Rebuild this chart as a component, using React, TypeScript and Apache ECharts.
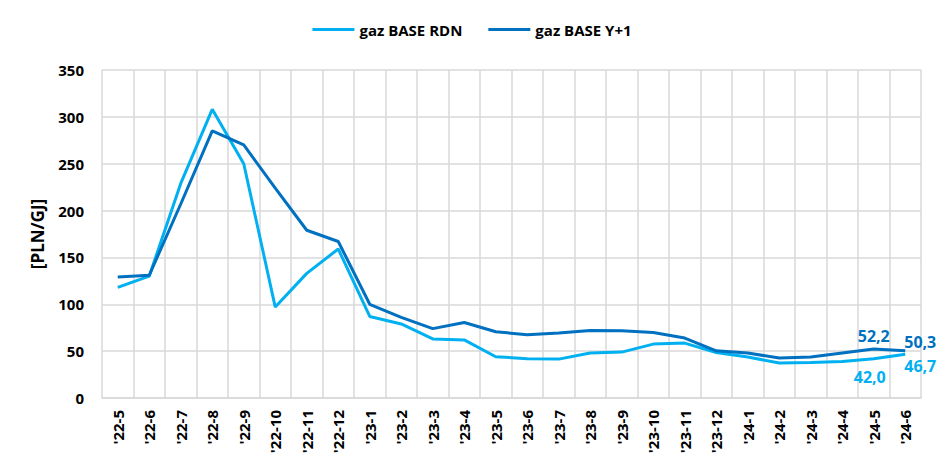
import React, { useEffect, useRef } from "react";
import * as echarts from "echarts";

const categories = [
  "'22-5", "'22-6", "'22-7", "'22-8", "'22-9", "'22-10", "'22-11", "'22-12",
  "'23-1", "'23-2", "'23-3", "'23-4", "'23-5", "'23-6", "'23-7", "'23-8",
  "'23-9", "'23-10", "'23-11", "'23-12", "'24-1", "'24-2", "'24-3", "'24-4",
  "'24-5", "'24-6",
];

const rdnValues = [
  118, 130, 229, 308, 250, 97, 133, 159,
  87, 79, 63, 62, 44, 42, 41.5, 48,
  49, 57.5, 58.6, 48.6, 43.7, 37.3, 38, 39,
  42.0, 46.7,
];

const y1Values = [
  129, 131, 207, 285, 270, 224, 179, 167,
  100, 86, 74, 80.6, 70.7, 67.5, 69.3, 72,
  71.7, 70, 64, 50.4, 48, 42.6, 43.7, 48,
  52.2, 50.3,
];

const seriesNames = ["gaz BASE RDN", "gaz BASE Y+1"];
const yTicks = { min: 0, max: 350, interval: 50 };

const FONT = "'Open Sans', 'Noto Sans', sans-serif";
const LIGHT = "#00B0F0";
const DARK = "#0070C0";

const fmt = (v: number) => v.toFixed(1).replace(".", ",");

function withLabels(values: number[], color: string, specs: Record<number, any>) {
  return values.map((v, i) => {
    const s = specs[i];
    if (!s) return v;
    return {
      value: v,
      label: {
        show: true,
        formatter: fmt(v),
        color,
        fontFamily: FONT,
        fontWeight: "bold",
        fontSize: 16,
        ...s,
      },
    };
  });
}

export default function App() {
  const ref = useRef<HTMLDivElement>(null);
  useEffect(() => {
    if (!ref.current) return;
    const chart = echarts.init(ref.current, undefined, { renderer: "svg" });
    const n = categories.length;
    chart.setOption({
      animation: false,
      backgroundColor: "#fff",
      legend: {
        top: 17,
        left: "center",
        itemWidth: 42,
        itemHeight: 3,
        itemGap: 26,
        icon: "rect",
        textStyle: { fontFamily: FONT, fontWeight: "bold", fontSize: 15, color: "#000" },
        data: seriesNames,
      },
      grid: { left: 102, right: 23, top: 70, bottom: 75, containLabel: false },
      xAxis: {
        type: "category",
        data: categories,
        boundaryGap: true,
        axisLine: { lineStyle: { color: "#d9d9d9", width: 1.5 } },
        axisTick: { show: false },
        splitLine: { show: true, interval: 0, lineStyle: { color: "#d9d9d9", width: 1.5 } },
        axisLabel: {
          interval: 0,
          rotate: 90,
          margin: 12,
          fontFamily: FONT,
          fontWeight: "bold",
          fontSize: 15,
          color: "#000",
        },
      },
      yAxis: {
        type: "value",
        ...yTicks,
        name: "[PLN/GJ]",
        nameLocation: "middle",
        nameGap: 56,
        nameTextStyle: { fontFamily: FONT, fontWeight: "bold", fontSize: 17, color: "#000" },
        axisLine: { show: false },
        axisTick: { show: false },
        splitLine: { lineStyle: { color: "#d9d9d9", width: 1.5 } },
        axisLabel: { fontFamily: FONT, fontWeight: "bold", fontSize: 15, color: "#000", margin: 18 },
      },
      series: [
        {
          name: seriesNames[0],
          type: "line",
          symbol: "circle",
          symbolSize: 0,
          showSymbol: true,
          color: LIGHT,
          lineStyle: { width: 3, color: LIGHT },
          z: 2,
          data: withLabels(rdnValues, LIGHT, {
            [n - 2]: { position: "bottom", offset: [-4, 5] },
            [n - 1]: { position: "bottom", offset: [15, -1] },
          }),
        },
        {
          name: seriesNames[1],
          type: "line",
          symbol: "circle",
          symbolSize: 0,
          showSymbol: true,
          color: DARK,
          lineStyle: { width: 3, color: DARK },
          z: 3,
          data: withLabels(y1Values, DARK, {
            [n - 2]: { position: "top", offset: [0, 0] },
            [n - 1]: { position: "top", offset: [15, 4] },
          }),
        },
      ],
    });
    return () => chart.dispose();
  }, []);
  return (
    <div
      ref={ref}
      style={{ position: "absolute", left: 0, top: 0, width: 944, height: 473 }}
    />
  );
}
